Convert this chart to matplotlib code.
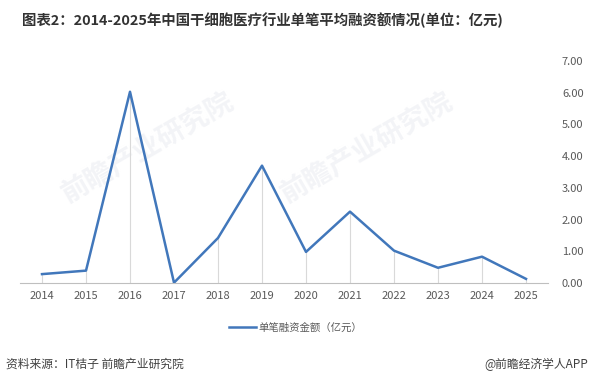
import matplotlib.pyplot as plt
import numpy as np

plt.rcParams['font.family'] = ['Noto Sans CJK SC', 'DejaVu Sans']

# Données
annees = ['2014', '2015', '2016', '2017', '2018', '2019', '2020', '2021', '2022', '2023', '2024', '2025']
montant = [0.28, 0.39, 6.03, 0.01, 1.42, 3.70, 0.98, 2.25, 1.02, 0.48, 0.83, 0.13]
yticks = [0, 1, 2, 3, 4, 5, 6, 7]

titre = '图表2：2014-2025年中国干细胞医疗行业单笔平均融资额情况(单位：亿元)'
serie = '单笔融资金额（亿元）'
source = '资料来源：IT桔子 前瞻产业研究院'
marque = '@前瞻经济学人APP'

couleur = '#4177bb'
gris = '#595959'

fig = plt.figure(figsize=(5.91, 3.86), dpi=100)
ax = fig.add_axes([20 / 591, 1 - 283 / 386, 528 / 591, 222 / 386])
ax.patch.set_visible(False)

x = np.arange(len(annees))
ax.vlines(x, 0, montant, color='#d9d9d9', lw=0.8, zorder=1)
line, = ax.plot(x, montant, color=couleur, lw=1.8, zorder=3, label=serie)

ax.set_xlim(-0.5, len(annees) - 0.5)
ax.set_ylim(0, 7)
ax.set_xticks(x)
ax.set_xticklabels(annees, fontsize=8, color=gris)
ax.yaxis.tick_right()
ax.set_yticks(yticks)
ax.set_yticklabels(['%.2f' % v for v in yticks], fontsize=8, color=gris)
ax.tick_params(axis='both', length=0, pad=6)
ax.tick_params(axis='y', pad=10)
for s in ['top', 'left', 'right']:
    ax.spines[s].set_visible(False)
ax.spines['bottom'].set_color('#bfbfbf')
ax.spines['bottom'].set_linewidth(0.8)

# Filigrane (derrière le graphique)
for (xf, yf) in [(0.25, 0.62), (0.62, 0.62)]:
    fig.text(xf, yf, '前瞻产业研究院', fontsize=20, color='#f3f4f7', rotation=30,
             ha='center', va='center', fontweight='bold', zorder=-5)

fig.legend(handles=[line], loc='center', bbox_to_anchor=(0.5, 1 - 328 / 386),
           frameon=False, fontsize=7.5, handlelength=2.6, handletextpad=0.2,
           labelcolor=gris)

fig.text(22 / 591, 1 - 20 / 386, titre, fontsize=10.4, fontweight='bold', color='#333333',
         va='center', ha='left')
fig.text(6 / 591, 1 - 364 / 386, source, fontsize=8.5, color='#404040', va='center', ha='left')
fig.text(588 / 591, 1 - 364 / 386, marque, fontsize=8.5, color='#404040', va='center', ha='right')

fig.savefig('out.png', dpi=100)
